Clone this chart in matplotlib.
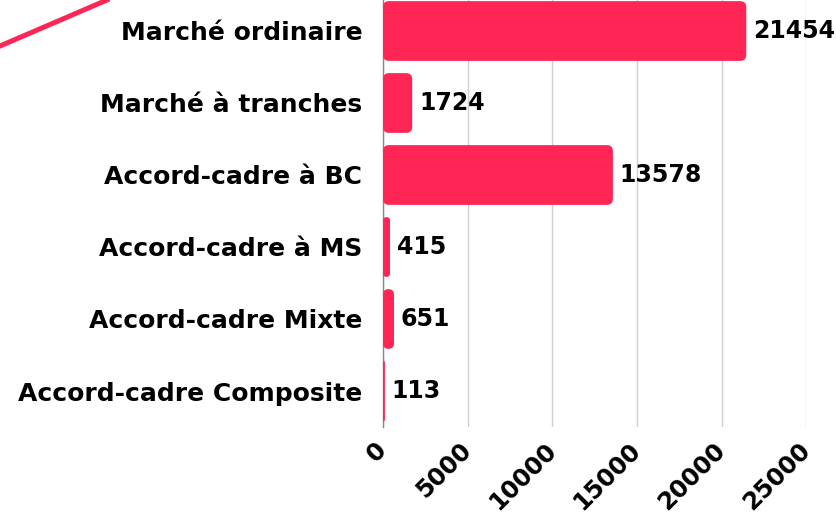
import matplotlib
matplotlib.use("Agg")
import matplotlib.pyplot as plt
import matplotlib.transforms as mtransforms
from matplotlib.patches import FancyBboxPatch
from matplotlib.lines import Line2D

categories = ["Marché ordinaire", "Marché à tranches", "Accord-cadre à BC",
              "Accord-cadre à MS", "Accord-cadre Mixte", "Accord-cadre Composite"]
values = [21454, 1724, 13578, 415, 651, 113]
xticks = [0, 5000, 10000, 15000, 20000, 25000]

pink = "#FF2656"
font = "DejaVu Sans"

fig = plt.figure(figsize=(8.37, 5.14), dpi=100)
ax = fig.add_axes([383 / 837, 1 - 427 / 514, (806.3 - 383) / 837, 432 / 514])

ypos = list(range(len(categories)))
bars = ax.barh(ypos, values, height=0.83, color="none")

# rounded bars built from the barh geometry
px_x = 25000 / (806.3 - 383)
px_y = 1 / 72
r_px = 6
for b in bars:
    x0, y0, w, h = b.get_x(), b.get_y(), b.get_width(), b.get_height()
    rs = min(r_px * px_x, w / 2)
    p = FancyBboxPatch((x0, y0), w, h,
                       boxstyle=f"round,pad=0,rounding_size={rs}",
                       mutation_aspect=px_y / px_x,
                       facecolor=pink, edgecolor="none", zorder=3)
    ax.add_patch(p)

for y, v in zip(ypos, values):
    ax.annotate(str(v), (v, y), xytext=(5, 0), textcoords="offset points",
                ha="left", va="center", fontsize=17, fontweight="bold",
                family=font, color="black", zorder=4)

ax.set_xlim(0, 25000)
ax.set_ylim(len(categories) - 0.5, -0.5)
ax.set_yticks(ypos)
ax.set_yticklabels(categories, fontsize=18, fontweight="bold", family=font)
ax.set_xticks(xticks)
ax.set_xticklabels([str(t) for t in xticks], rotation=45, ha="right", va="center",
                   rotation_mode="anchor", fontsize=17.5, fontweight="bold", family=font)
shift = mtransforms.ScaledTranslation(6 / 100, 0, fig.dpi_scale_trans)
for lbl in ax.get_xticklabels():
    lbl.set_transform(lbl.get_transform() + shift)
ax.tick_params(axis="both", length=0)
ax.tick_params(axis="y", pad=15)
ax.tick_params(axis="x", pad=14)
ax.grid(axis="x", color="#d0d0d0", linewidth=1, zorder=0)
ax.set_axisbelow(True)
for s in ["top", "right", "bottom"]:
    ax.spines[s].set_visible(False)
ax.spines["left"].set_color("#888888")
ax.spines["left"].set_linewidth(1)

# decorative stroke top-left
fig.add_artist(Line2D([0, 107 / 837], [1 - 46 / 514, 1.0], color=pink, linewidth=3.6,
                      transform=fig.transFigure))

fig.savefig("out.png", dpi=100)
